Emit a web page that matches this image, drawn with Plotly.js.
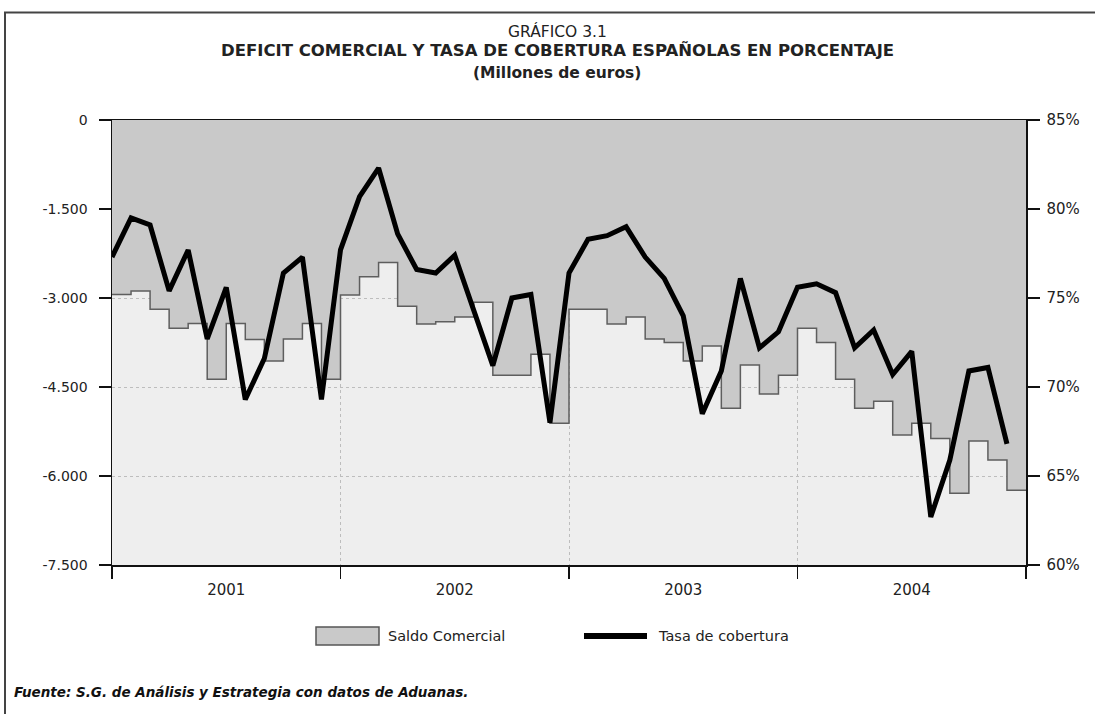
<!DOCTYPE html>
<html>
<head>
<meta charset="utf-8">
<script src="https://cdn.plot.ly/plotly-3.0.1.min.js"></script>
<style>
  html, body { margin: 0; padding: 0; background: #ffffff; }
  #chart { width: 1095px; height: 714px; }
</style>
</head>
<body>
<div id="chart"></div>
<script>
// ---- Data ----
const years = ['2001', '2002', '2003', '2004'];
const monthsPerYear = 12;

// Saldo Comercial (millones de euros), monthly Jan 2001 .. Dec 2004
const saldoComercial = [
  -2940, -2880, -3190, -3510, -3430, -4370, -3430, -3700, -4060, -3690, -3430, -4370,
  -2950, -2640, -2400, -3140, -3440, -3400, -3320, -3070, -4300, -4300, -3950, -5110,
  -3190, -3190, -3440, -3320, -3690, -3750, -4060, -3810, -4860, -4130, -4620, -4300,
  -3510, -3750, -4370, -4860, -4740, -5310, -5110, -5370, -6290, -5410, -5730, -6240
];

// Tasa de cobertura (%), monthly Jan 2001 .. Dec 2004
const tasaCobertura = [
  77.3, 79.5, 79.1, 75.4, 77.7, 72.7, 75.6, 69.3, 71.6, 76.4, 77.3, 69.3,
  77.7, 80.7, 82.3, 78.6, 76.6, 76.4, 77.4, 74.3, 71.2, 75.0, 75.2, 68.0,
  76.4, 78.3, 78.5, 79.0, 77.3, 76.1, 74.0, 68.5, 70.9, 76.1, 72.2, 73.1,
  75.6, 75.8, 75.3, 72.2, 73.2, 70.7, 72.0, 62.7, 65.9, 70.9, 71.1, 66.8
];

const leftTickVals = [0, -1500, -3000, -4500, -6000, -7500];
const leftTickText = ['0', '-1.500', '-3.000', '-4.500', '-6.000', '-7.500'];
const rightTickVals = [85, 80, 75, 70, 65, 60];
const rightTickText = ['85%', '80%', '75%', '70%', '65%', '60%'];

const seriesNames = ['Saldo Comercial', 'Tasa de cobertura'];

// ---- Derived positions (month index on a numeric axis) ----
const nMonths = saldoComercial.length;
const monthIdx = saldoComercial.map((_, i) => i);

// step outline: each month's value holds from its start to the next month's start
const stepX = [], stepY = [];
saldoComercial.forEach((v, i) => { stepX.push(i, i + 1); stepY.push(v, v); });

const yearCenters = years.map((_, k) => k * monthsPerYear + monthsPerYear / 2);
const yearBounds = [0].concat(years.map((_, k) => (k + 1) * monthsPerYear));

// layout helpers: page pixel -> paper fraction (plot area 112..1026 x 120..565)
const M = { l: 112, r: 69, t: 120, b: 149 };
const PW = 1095 - M.l - M.r, PH = 714 - M.t - M.b;
const px = x => (x - M.l) / PW;
const py = y => (714 - M.b - y) / PH;

const FONT = 'DejaVu Sans, Verdana, sans-serif';
const TXT = '#222222';

const traces = [
  {
    type: 'scatter', mode: 'lines',
    name: seriesNames[0],
    x: stepX, y: stepY,
    fill: 'tozeroy', fillcolor: '#c9c9c9',
    line: { color: '#5e5e5e', width: 1.5 },
    showlegend: false,
    hoverinfo: 'skip'
  },
  {
    type: 'scatter', mode: 'lines',
    name: seriesNames[1],
    x: monthIdx, y: tasaCobertura,
    yaxis: 'y2',
    line: { color: '#000000', width: 5 },
    showlegend: false,
    hoverinfo: 'skip'
  }
];

const layout = {
  width: 1095, height: 714,
  margin: M,
  paper_bgcolor: '#ffffff',
  plot_bgcolor: '#eeeeee',
  font: { family: FONT, size: 14, color: TXT },
  showlegend: false,
  xaxis: {
    range: [0, nMonths],
    tickmode: 'array',
    tickvals: yearCenters,
    ticktext: years,
    ticks: '',
    ticklabelstandoff: 10,
    showgrid: false,
    zeroline: false,
    showline: true, linecolor: '#111111', linewidth: 1.5, mirror: true,
    tickfont: { family: FONT, size: 15, color: TXT },
    minor: {
      tickmode: 'array',
      tickvals: yearBounds,
      ticks: 'outside', ticklen: 12, tickwidth: 1.5, tickcolor: '#111111',
      showgrid: true, gridcolor: '#bdbdbd', griddash: 'dot', gridwidth: 1
    },
    fixedrange: true
  },
  yaxis: {
    range: [-7500, 0],
    tickmode: 'array',
    tickvals: leftTickVals,
    ticktext: leftTickText,
    ticks: 'outside', ticklen: 12, tickwidth: 1.5, tickcolor: '#111111',
    showgrid: true, gridcolor: '#bdbdbd', griddash: 'dot', gridwidth: 1,
    zeroline: false,
    showline: true, linecolor: '#111111', linewidth: 1.5,
    tickfont: { family: FONT, size: 14, color: TXT },
    ticklabelstandoff: 8,
    fixedrange: true
  },
  yaxis2: {
    overlaying: 'y', side: 'right',
    range: [60, 85],
    tickmode: 'array',
    tickvals: rightTickVals,
    ticktext: rightTickText,
    ticks: 'outside', ticklen: 12, tickwidth: 1.5, tickcolor: '#111111',
    showgrid: false, zeroline: false,
    showline: true, linecolor: '#111111', linewidth: 1.5,
    tickfont: { family: FONT, size: 15, color: TXT },
    ticklabelstandoff: 4,
    fixedrange: true
  },
  annotations: [
    { text: 'GRÁFICO 3.1', xref: 'paper', yref: 'paper', x: px(557), y: py(31),
      xanchor: 'center', yanchor: 'middle', showarrow: false,
      font: { family: FONT, size: 15.5, color: TXT } },
    { text: '<b>DEFICIT COMERCIAL Y TASA DE COBERTURA ESPAÑOLAS EN PORCENTAJE</b>',
      xref: 'paper', yref: 'paper', x: px(557), y: py(51),
      xanchor: 'center', yanchor: 'middle', showarrow: false,
      font: { family: FONT, size: 16.5, color: TXT } },
    { text: '<b>(Millones de euros)</b>', xref: 'paper', yref: 'paper', x: px(557), y: py(73),
      xanchor: 'center', yanchor: 'middle', showarrow: false,
      font: { family: FONT, size: 15.5, color: TXT } },
    // legend texts
    { text: seriesNames[0], xref: 'paper', yref: 'paper', x: px(386), y: py(636),
      xanchor: 'left', yanchor: 'middle', showarrow: false,
      font: { family: FONT, size: 14.5, color: TXT } },
    { text: seriesNames[1], xref: 'paper', yref: 'paper', x: px(656), y: py(636),
      xanchor: 'left', yanchor: 'middle', showarrow: false,
      font: { family: FONT, size: 14.5, color: TXT } },
    { text: '<b><i>Fuente: S.G. de Análisis y Estrategia con datos de Aduanas.</i></b>',
      xref: 'paper', yref: 'paper', x: px(12), y: py(692),
      xanchor: 'left', yanchor: 'middle', showarrow: false,
      font: { family: FONT, size: 13.5, color: '#111111' } }
  ],
  shapes: [
    // legend symbols
    { type: 'rect', xref: 'paper', yref: 'paper',
      x0: px(316), x1: px(379), y0: py(645), y1: py(627),
      fillcolor: '#c9c9c9', line: { color: '#555555', width: 1.5 } },
    { type: 'line', xref: 'paper', yref: 'paper',
      x0: px(584), x1: px(647), y0: py(636), y1: py(636),
      line: { color: '#000000', width: 6 } },
    // outer frame
    { type: 'rect', xref: 'paper', yref: 'paper',
      x0: px(5), x1: px(1120), y0: py(740), y1: py(12.5),
      line: { color: '#444444', width: 2 }, fillcolor: 'rgba(0,0,0,0)', layer: 'above' }
  ]
};

Plotly.newPlot('chart', traces, layout, { displayModeBar: false, staticPlot: true });
</script>
</body>
</html>
